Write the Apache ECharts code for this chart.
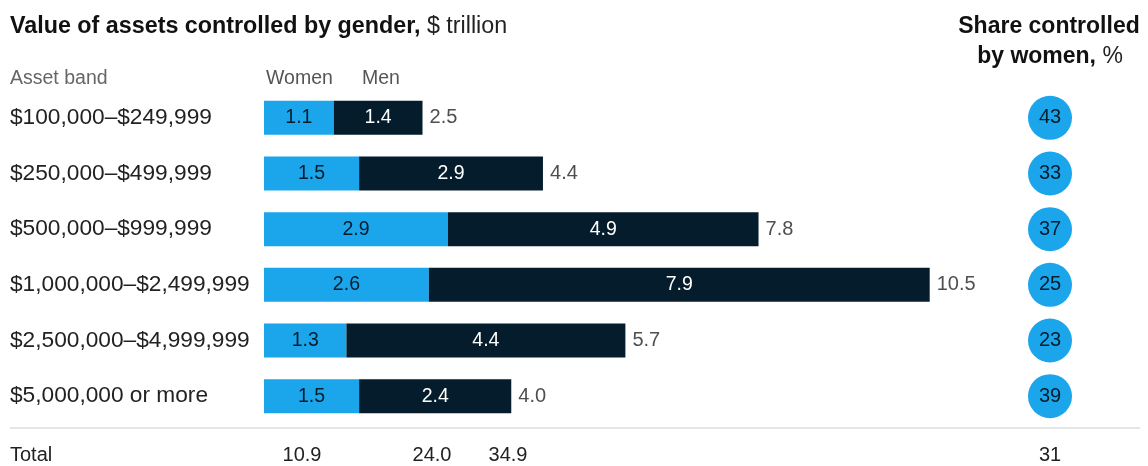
<!DOCTYPE html>
<html>
<head>
<meta charset="utf-8">
<script src="https://cdn.jsdelivr.net/npm/echarts@6/dist/echarts.min.js"></script>
<style>html,body{margin:0;padding:0;background:#fff;}#c{width:1148px;height:466px;}</style>
</head>
<body>
<div id="c"></div>
<script>
const categories = ['$100,000–$249,999','$250,000–$499,999','$500,000–$999,999','$1,000,000–$2,499,999','$2,500,000–$4,999,999','$5,000,000 or more'];
const women = [1.1, 1.5, 2.9, 2.6, 1.3, 1.5];
const men = [1.4, 2.9, 4.9, 7.9, 4.4, 2.4];
const totals = ['2.5','4.4','7.8','10.5','5.7','4.0'];
const shareWomen = [43, 33, 37, 25, 23, 39];
const totalRow = {label: 'Total', women: '10.9', men: '24.0', all: '34.9', share: '31'};

const FONT = '"Liberation Sans", Arial, sans-serif';
const NAVY = '#051c2c';
const BLUE = '#1ba6ec';
const chart = echarts.init(document.getElementById('c'));
const txt = (x, y, text, opts) => ({type:'text', x, y, style: Object.assign({text, font:'20px '+FONT, fill:'#222', textVerticalAlign:'middle'}, opts||{})});
chart.setOption({
  animation:false,
  textStyle:{fontFamily:FONT},
  grid:[
    {left:264, top:90, height:334, width:760.8},
    {left:1000, top:90, height:334, width:100}
  ],
  xAxis:[
    {gridIndex:0, type:'value', min:0, max:12, show:false},
    {gridIndex:1, type:'value', min:0, max:1, show:false}
  ],
  yAxis:[
    {gridIndex:0, type:'category', data:categories, inverse:true,
     axisLine:{show:false}, axisTick:{show:false},
     axisLabel:{align:'left', margin:254, fontSize:22.7, color:'#222', fontFamily:FONT}},
    {gridIndex:1, type:'category', data:categories, inverse:true, show:false}
  ],
  series:[
    {type:'bar', name:'Women', stack:'a', data:women, barWidth:34, itemStyle:{color:BLUE},
     label:{show:true, position:'inside', color:NAVY, fontSize:19.5, fontFamily:FONT, formatter:p=>p.value.toFixed(1)}},
    {type:'bar', name:'Men', stack:'a', data:men, barWidth:34, itemStyle:{color:NAVY},
     label:{show:true, position:'inside', color:'#fff', fontSize:19.5, fontFamily:FONT, formatter:p=>p.value.toFixed(1)}},
    {type:'scatter', data:women.map((w,i)=>[w+men[i], i]), symbolSize:0.1, silent:true,
     label:{show:true, position:'right', distance:7, color:'#222', fontSize:20, fontFamily:FONT, formatter:p=>totals[p.dataIndex]}},
    {type:'scatter', xAxisIndex:1, yAxisIndex:1, data:shareWomen.map((s,i)=>[0.5, i, s]), symbolSize:44,
     itemStyle:{color:BLUE, opacity:1},
     label:{show:true, position:'inside', color:NAVY, fontSize:20, fontFamily:FONT, formatter:p=>String(p.value[2])}}
  ],
  graphic:[
    {type:'text', x:10, y:27, style:{text:'{b|Value of assets controlled by gender,}{r| $ trillion}', textVerticalAlign:'middle',
      rich:{b:{font:'bold 23.3px '+FONT, fill:'#111'}, r:{font:'23.3px '+FONT, fill:'#222'}}}},
    {type:'text', x:1049, y:27, style:{text:'Share controlled', font:'bold 23px '+FONT, fill:'#111', textAlign:'center', textVerticalAlign:'middle'}},
    {type:'text', x:1050, y:57, style:{text:'{b|by women,}{r| %}', textAlign:'center', textVerticalAlign:'middle',
      rich:{b:{font:'bold 23px '+FONT, fill:'#111'}, r:{font:'23px '+FONT, fill:'#222'}}}},
    txt(10, 79, 'Asset band', {font:'19.5px '+FONT, fill:'#666'}),
    txt(266, 79, 'Women', {font:'19.5px '+FONT, fill:'#555'}),
    txt(362, 79, 'Men', {font:'19.5px '+FONT, fill:'#555'}),
    {type:'line', shape:{x1:10, y1:428, x2:1140, y2:428}, style:{stroke:'#dddddd', lineWidth:1.5}},
    txt(10, 455, totalRow.label),
    txt(302, 455, totalRow.women, {textAlign:'center'}),
    txt(432, 455, totalRow.men, {textAlign:'center'}),
    txt(508, 455, totalRow.all, {textAlign:'center'}),
    txt(1050, 455, totalRow.share, {textAlign:'center'})
  ]
});
</script>
</body>
</html>
